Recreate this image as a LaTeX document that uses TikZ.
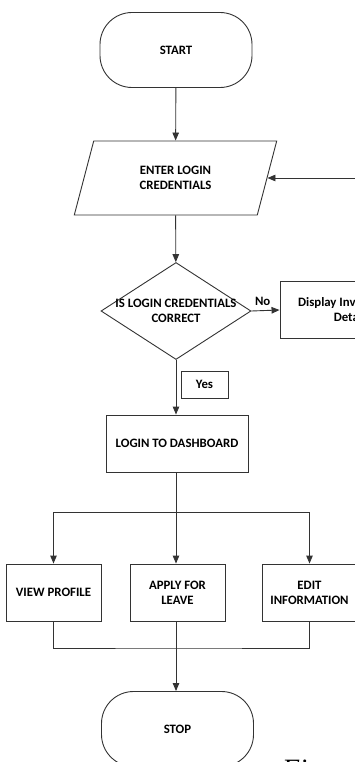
\documentclass[tikz,border=0pt]{standalone}
\usepackage{fontspec}
\setmainfont{Carlito}
\newfontfamily\capfont{Liberation Serif}
\usetikzlibrary{calc,shapes.geometric,arrows.meta,positioning}

\tikzset{
  every node/.style={font=\fontsize{12.8}{15}\selectfont\bfseries,align=center,inner sep=0pt},
  flowline/.style={line width=0.9pt,draw=black!80},
  arr/.style={flowline,-{Triangle[length=8pt,width=6.5pt]}},
  terminal/.style={draw=black!80,line width=0.9pt,rounded corners=32pt,minimum width=152pt,minimum height=75pt},
  io/.style={draw=black!80,line width=0.9pt,trapezium,trapezium left angle=70,trapezium right angle=110,trapezium stretches=true,minimum width=203pt,minimum height=74pt},
  decision/.style={draw=black!80,line width=0.9pt,diamond,minimum width=150pt,minimum height=97pt},
  process/.style={draw=black!80,line width=0.9pt,minimum width=95pt,minimum height=57pt},
}

\begin{document}
\begin{tikzpicture}[x=1pt,y=-1pt]
  \useasboundingbox (0,0) rectangle (355,762);
  \clip (0,0) rectangle (355,762);
  % nodes
  \node[terminal] (start) at (176,50) {START};
  \node[io] (enter) at (175.5,178) {ENTER LOGIN\\CREDENTIALS};
  \node[decision,label={center:IS LOGIN CREDENTIALS\\CORRECT}] (check) at (176,311) {};
  \node[process,minimum width=144pt] (invalid) at (352,310) {Display Invalid Login\\Details};
  \node[process,minimum width=47pt,minimum height=27pt] (yes) at (204.5,384.5) {Yes};
  \node[process,minimum width=142pt] (dash) at (177,443.5) {LOGIN TO DASHBOARD};
  \node[process] (view) at (53.5,592.5) {VIEW PROFILE};
  \node[process] (apply) at (177.5,592.5) {APPLY FOR\\LEAVE};
  \node[process] (edit) at (309.5,592.5) {EDIT\\INFORMATION};
  \node[terminal] (stop) at (177.5,729) {STOP};
  \node[anchor=base west,font=\capfont\itshape\fontsize{28}{30}\selectfont] (cap) at (282,778) {Figure};
  \coordinate (split) at (176,512);
  \coordinate (join) at (176,648);
  % connectors
  \draw[arr] (start) -- (enter);
  \draw[arr] (enter) -- (check);
  \draw[arr] (check.east) -- node[above=5pt,pos=0.4]{No} (invalid.west);
  \draw[arr] (invalid.east) -- ++(20,0) |- (enter.east);
  \draw[arr] (check.south) -- (dash.north -| check.south);
  \draw[flowline] (dash.south -| split) -- (split);
  \draw[arr] (split) -- (apply.north -| split);
  \draw[arr] (split) -| (view.north);
  \draw[arr] (split) -| (edit.north);
  \draw[flowline] (view.south) |- (join) -| (edit.south);
  \draw[flowline] (apply.south -| join) -- (join);
  \draw[arr] (join) -- (stop.north -| join);
\end{tikzpicture}
\end{document}
